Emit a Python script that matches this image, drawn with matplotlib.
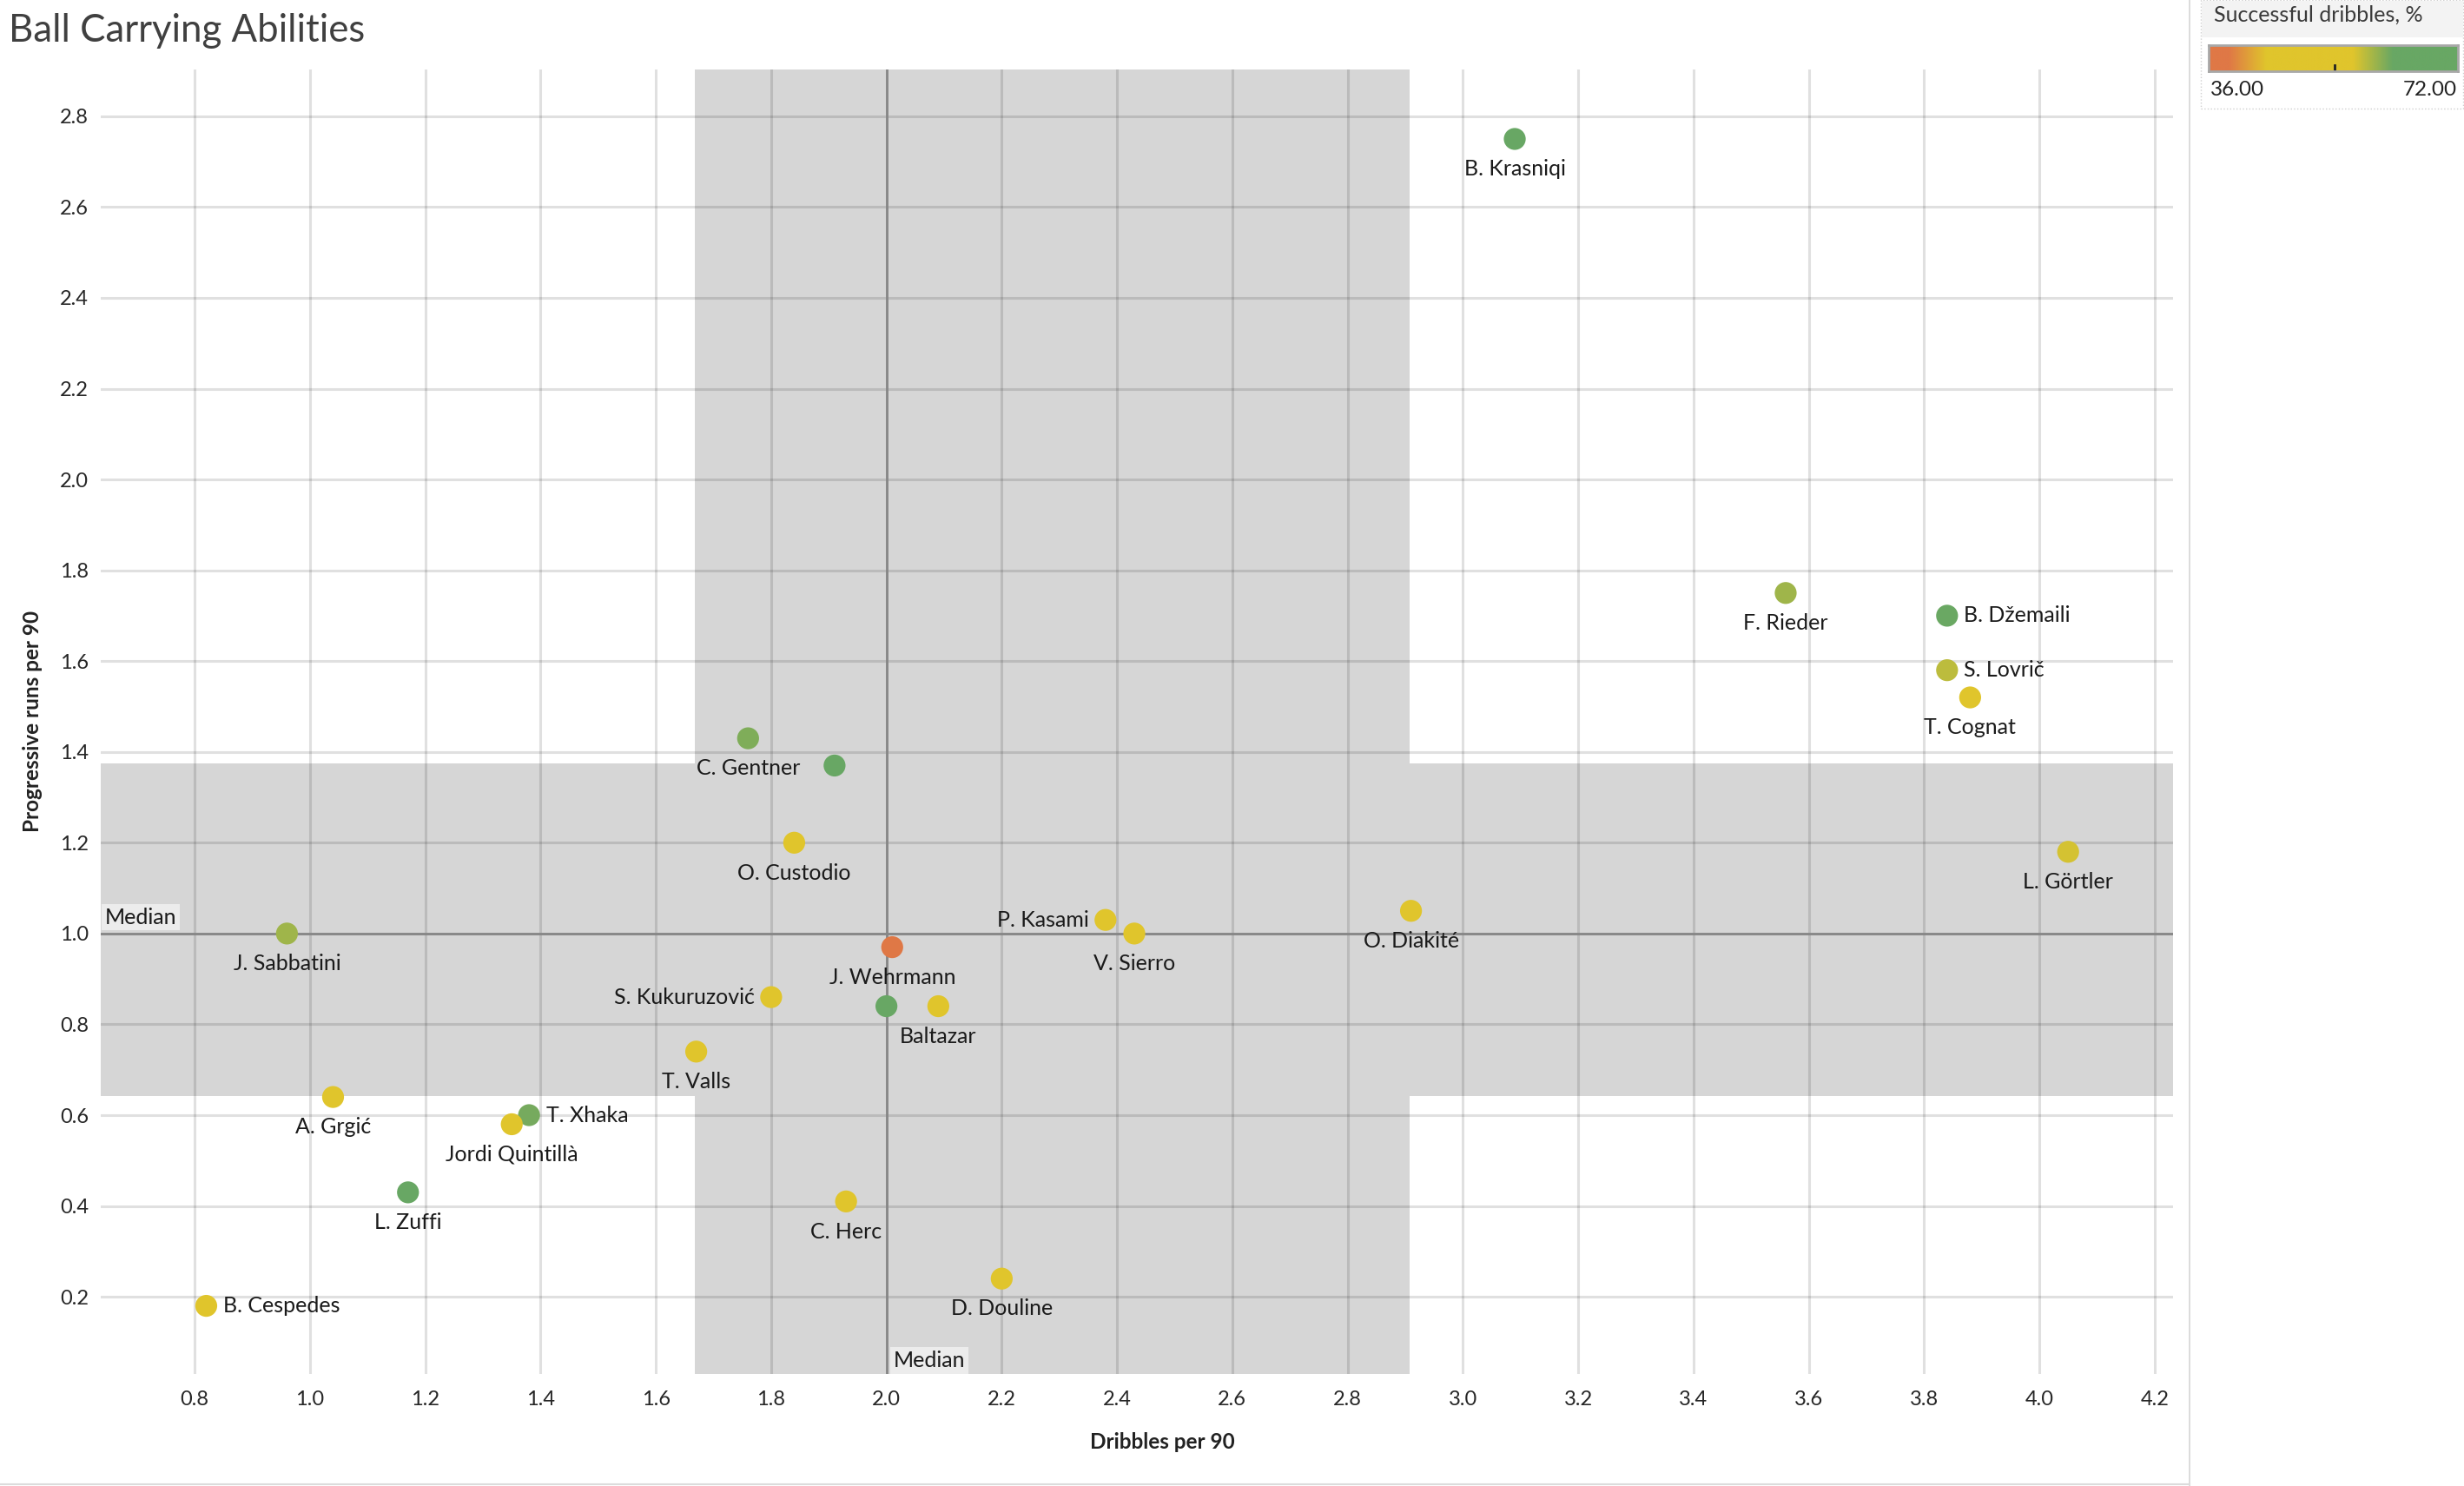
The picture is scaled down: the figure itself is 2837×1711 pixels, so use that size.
import matplotlib
matplotlib.use("Agg")
import matplotlib.pyplot as plt
import numpy as np
from matplotlib.colors import LinearSegmentedColormap, Normalize
from matplotlib.patches import Rectangle
from matplotlib.lines import Line2D

plt.rcParams['font.family'] = ['Lato', 'DejaVu Sans']

# ---------------- data ----------------
players = ["B. Krasniqi", "F. Rieder", "B. Džemaili", "S. Lovrič", "T. Cognat",
           "L. Görtler", "O. Diakité", "C. Gentner", "", "O. Custodio",
           "J. Sabbatini", "P. Kasami", "V. Sierro", "J. Wehrmann", "S. Kukuruzović",
           "", "Baltazar", "T. Valls", "A. Grgić", "T. Xhaka",
           "Jordi Quintillà", "L. Zuffi", "C. Herc", "D. Douline", "B. Cespedes"]
dribbles = [3.09, 3.56, 3.84, 3.84, 3.88,
            4.05, 2.91, 1.76, 1.91, 1.84,
            0.96, 2.38, 2.43, 2.01, 1.80,
            2.00, 2.09, 1.67, 1.04, 1.38,
            1.35, 1.17, 1.93, 2.20, 0.82]
prog_runs = [2.75, 1.75, 1.70, 1.58, 1.52,
             1.18, 1.05, 1.43, 1.37, 1.20,
             1.00, 1.03, 1.00, 0.97, 0.86,
             0.84, 0.84, 0.74, 0.64, 0.60,
             0.58, 0.43, 0.41, 0.24, 0.18]
success_pct = [68, 60, 62.5, 58.5, 52,
               57.5, 50, 61.5, 66, 52,
               60, 52, 50, 38, 50,
               65, 50, 50, 50, 62,
               50, 64, 52, 50, 50]
label_pos = ["below", "below", "right", "right", "below",
             "below", "below", "below", "none", "below",
             "below", "left", "below", "below", "left",
             "none", "below", "below", "below", "right",
             "below", "below", "below", "below", "right"]

median_x = 2.0
median_y = 1.0
band_x = (1.667, 2.907)
band_y = (0.643, 1.375)

x_ticks = [0.8, 1.0, 1.2, 1.4, 1.6, 1.8, 2.0, 2.2, 2.4, 2.6, 2.8, 3.0, 3.2, 3.4, 3.6, 3.8, 4.0, 4.2]
y_ticks = [0.2, 0.4, 0.6, 0.8, 1.0, 1.2, 1.4, 1.6, 1.8, 2.0, 2.2, 2.4, 2.6, 2.8]
cmin, cmax = 36.0, 72.0

# ---------------- styling ----------------
W, H = 2837, 1711
fig = plt.figure(figsize=(W / 100, H / 100), dpi=100)
fig.patch.set_facecolor("white")

def fx(px): return px / W
def fy(py): return 1 - py / H

ax = fig.add_axes([fx(116), fy(1582), (2502 - 116) / W, (1582 - 80) / H])
ax.set_xlim(0.637, 4.232)
ax.set_ylim(0.030, 2.903)
ax.set_facecolor("white")

band_col = "#d6d6d6"
ax.axvspan(band_x[0], band_x[1], color=band_col, zorder=0.1, lw=0)
ax.axhspan(band_y[0], band_y[1], color=band_col, zorder=0.1, lw=0)

for xt in x_ticks:
    ax.axvline(xt, color="black", alpha=0.12, lw=2.2, zorder=0.5)
for yt in y_ticks:
    ax.axhline(yt, color="black", alpha=0.12, lw=2.2, zorder=0.5)

ax.axvline(median_x, color="#878787", lw=2.0, zorder=1)
ax.axhline(median_y, color="#878787", lw=2.0, zorder=1)

cmap = LinearSegmentedColormap.from_list(
    "rgg", [(0.0, "#df7846"), (0.08, "#df7846"), (0.23, "#e0c52c"),
            (0.58, "#e0c52c"), (0.74, "#68a764"), (1.0, "#68a764")])
norm = Normalize(cmin, cmax)

ax.scatter(dribbles, prog_runs, c=success_pct, cmap=cmap, norm=norm,
           s=330, edgecolors="none", zorder=3)

lab_fs = 18
for name, x, y, pos in zip(players, dribbles, prog_runs, label_pos):
    if pos == "none":
        continue
    if pos == "below":
        ax.annotate(name, (x, y), xytext=(0, -25), textcoords="offset points",
                    ha="center", va="center", fontsize=lab_fs, color="#1a1a1a", zorder=4)
    elif pos == "right":
        ax.annotate(name, (x, y), xytext=(14, 0), textcoords="offset points",
                    ha="left", va="center", fontsize=lab_fs, color="#1a1a1a", zorder=4)
    else:
        ax.annotate(name, (x, y), xytext=(-14, 0), textcoords="offset points",
                    ha="right", va="center", fontsize=lab_fs, color="#1a1a1a", zorder=4)

# Median labels
ax.text(0.6445, median_y + 0.014, "Median", ha="left", va="bottom", fontsize=lab_fs,
        color="#1a1a1a", zorder=5,
        bbox=dict(boxstyle="square,pad=0.15", fc="#ececec", ec="none"))
ax.text(median_x + 0.012, 0.038, "Median", ha="left", va="bottom", fontsize=lab_fs,
        color="#1a1a1a", zorder=5,
        bbox=dict(boxstyle="square,pad=0.15", fc="#ececec", ec="none"))

ax.set_xticks(x_ticks)
ax.set_yticks(y_ticks)
ax.set_xticklabels([f"{v:.1f}" for v in x_ticks])
ax.set_yticklabels([f"{v:.1f}" for v in y_ticks])
ax.tick_params(length=0, labelsize=17, colors="#262626", pad=10)
ax.tick_params(axis="x", pad=14)
for s in ax.spines.values():
    s.set_visible(False)

fig.text(fx(1338), fy(1661), "Dribbles per 90", ha="center", va="center",
         fontsize=17.5, fontweight="bold", color="#222222")
fig.text(fx(38), fy(831), "Progressive runs per 90", ha="center", va="center",
         rotation=90, fontsize=17.5, fontweight="bold", color="#222222")

fig.text(fx(10), fy(36), "Ball Carrying Abilities", ha="left", va="center",
         fontsize=31.5, fontweight="normal", color="#404040")

# separator lines
fig.add_artist(Line2D([fx(2521), fx(2521)], [0, 1], color="#d6d6d6", lw=1.2))
fig.add_artist(Line2D([0, fx(2521)], [fy(1709), fy(1709)], color="#dcdcdc", lw=1.5))

# legend panel
fig.add_artist(Rectangle((fx(2534), fy(125)), (2836 - 2534) / W, 125 / H,
                         fc="white", ec="#cfcfcf", lw=1, ls=":", zorder=-2))
fig.add_artist(Rectangle((fx(2535), fy(43)), (2836 - 2535) / W, 42 / H,
                         fc="#f3f3f3", ec="none", zorder=-1))
fig.text(fx(2549), fy(17), "Successful dribbles, %", ha="left", va="center",
         fontsize=18, color="#3a3a3a")
cax = fig.add_axes([fx(2543), fy(82), (2830 - 2543) / W, 30 / H])
cax.set_zorder(5)
grad = np.linspace(cmin, cmax, 400).reshape(1, -1)
cax.imshow(grad, aspect="auto", cmap=cmap, norm=norm, extent=[cmin, cmax, 0, 1])
cax.set_xlim(cmin, cmax)
cax.set_ylim(0, 1)
cax.set_xticks([])
cax.set_yticks([])
for s in cax.spines.values():
    s.set_color("#a8a8a8")
    s.set_linewidth(2)
cax.plot([54.2, 54.2], [0.0, 0.25], color="#222222", lw=2)
fig.text(fx(2545), fy(104), "36.00", ha="left", va="center", fontsize=17.5, color="#222222")
fig.text(fx(2829), fy(104), "72.00", ha="right", va="center", fontsize=17.5, color="#222222")

fig.savefig("out.png", dpi=100)
